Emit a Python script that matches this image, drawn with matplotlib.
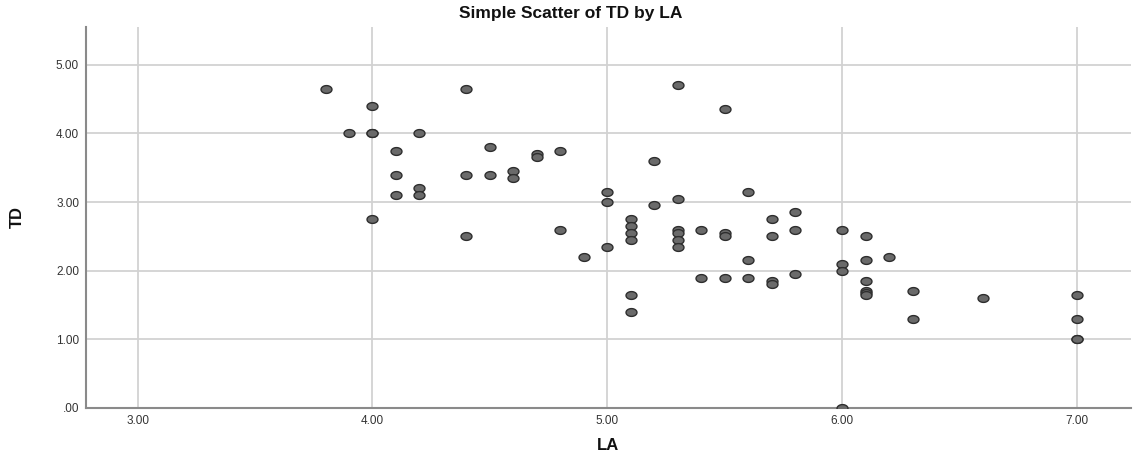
import numpy as np
import matplotlib
matplotlib.use("Agg")
import matplotlib.pyplot as plt
from matplotlib.path import Path

plt.rcParams['font.family'] = ['Liberation Sans', 'DejaVu Sans']

LA = [3.8, 3.9, 4.0, 4.0, 4.0, 4.0,
      4.1, 4.1, 4.1, 4.2, 4.2, 4.2,
      4.4, 4.4, 4.4, 4.5, 4.5, 4.6, 4.6, 4.7, 4.7, 4.8, 4.8, 4.9,
      5.0, 5.0, 5.0, 5.1, 5.1, 5.1, 5.1, 5.1, 5.1,
      5.2, 5.2, 5.3, 5.3, 5.3, 5.3, 5.3, 5.3,
      5.4, 5.4, 5.5, 5.5, 5.5, 5.5,
      5.6, 5.6, 5.6, 5.7, 5.7, 5.7, 5.7,
      5.8, 5.8, 5.8, 6.0, 6.0, 6.0, 6.0,
      6.1, 6.1, 6.1, 6.1, 6.1, 6.1, 6.2, 6.3, 6.3, 6.6,
      7.0, 7.0, 7.0, 7.0]
TD = [4.65, 4.0, 4.4, 4.0, 4.0, 2.75,
      3.75, 3.4, 3.1, 4.0, 3.2, 3.1,
      4.65, 3.4, 2.5, 3.8, 3.4, 3.45, 3.35, 3.7, 3.65, 3.75, 2.6, 2.2,
      3.15, 3.0, 2.35, 2.75, 2.65, 2.55, 2.45, 1.65, 1.4,
      3.6, 2.95, 4.7, 3.05, 2.6, 2.55, 2.45, 2.35,
      2.6, 1.9, 4.35, 2.55, 2.5, 1.9,
      3.15, 2.15, 1.9, 2.75, 2.5, 1.85, 1.8,
      2.85, 2.6, 1.95, 2.6, 2.1, 2.0, 0.0,
      2.5, 2.15, 1.85, 1.7, 1.67, 1.65, 2.2, 1.7, 1.3, 1.6,
      1.65, 1.3, 1.0, 1.0]

x_ticks = [3.0, 4.0, 5.0, 6.0, 7.0]
x_tick_labels = ["3.00", "4.00", "5.00", "6.00", "7.00"]
y_ticks = [0.0, 1.0, 2.0, 3.0, 4.0, 5.0]
y_tick_labels = [".00", "1.00", "2.00", "3.00", "4.00", "5.00"]

# elliptical marker
t = np.linspace(0, 2 * np.pi, 60)
ell = Path(np.column_stack([1.4 * np.cos(t), np.sin(t)]), closed=True)

fig = plt.figure(figsize=(11.36, 4.59), dpi=100)
ax = fig.add_axes([86 / 1136, 1 - 408 / 459, (1131 - 86) / 1136, (408 - 27) / 459])

ax.scatter(LA, TD, marker=ell, s=62, facecolor='#6a6a6a', edgecolor='#2e2e2e',
           linewidths=1.0, zorder=3)

ax.set_xlim(2.78, 7.23)
ax.set_ylim(0, 5.55)
ax.set_xticks(x_ticks)
ax.set_xticklabels(x_tick_labels)
ax.set_yticks(y_ticks)
ax.set_yticklabels(y_tick_labels)
ax.tick_params(length=0, labelsize=8.5, labelcolor='#333333', pad=5)
ax.grid(True, color='#d2d2d2', linewidth=1.3, zorder=0)
ax.set_axisbelow(True)
for s in ['top', 'right']:
    ax.spines[s].set_visible(False)
for s in ['left', 'bottom']:
    ax.spines[s].set_color('#8a8a8a')
    ax.spines[s].set_linewidth(1.5)

ax.set_xlabel("LA", fontsize=12, fontweight='bold', color='#111111', labelpad=8)
ax.set_ylabel("TD", fontsize=12, fontweight='bold', color='#111111', labelpad=22)
fig.text(0.502, 0.970, "Simple Scatter of TD by LA", ha='center', va='center',
         fontsize=12.5, fontweight='bold', color='#111111')

fig.savefig("out.png", dpi=100, facecolor='white')
